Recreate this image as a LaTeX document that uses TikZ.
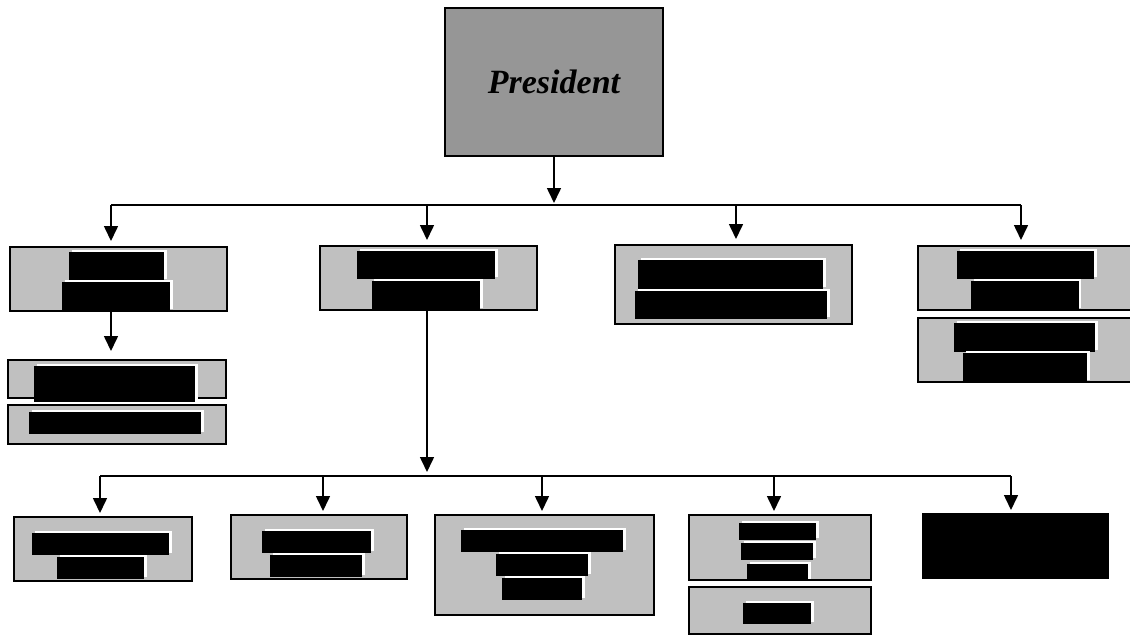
\documentclass[tikz,border=0pt]{standalone}
\usepackage{fontspec}
\setmainfont{Liberation Serif}
\usetikzlibrary{arrows.meta,shadows}
\definecolor{presgray}{RGB}{150,150,150}
\definecolor{unitgray}{RGB}{192,192,192}
\tikzset{
  box/.style = {draw=black, line width=2pt, inner sep=0pt},
  pres_b/.style = {box, fill=presgray, font=\fontsize{34}{40}\selectfont\bfseries\itshape},
  unit_b/.style = {box, fill=unitgray},
  black_b/.style = {box, fill=black},
  redact/.style = {fill=black, drop shadow={shadow xshift=2.5pt, shadow yshift=2.5pt, fill=white, opacity=1}},
  link/.style = {line width=1.6pt},
  arr/.style = {link, -{Triangle[length=15pt,width=14pt]}},
}

\begin{document}
\begin{tikzpicture}[x=1pt, y=-1pt]
  \useasboundingbox (0,0) rectangle (1130,637);
  % boxes
  \node [pres_b, minimum width=218pt, minimum height=148pt] (pres) at (554,82) {President};
  \node [unit_b, minimum width=217pt, minimum height=64pt] (top1) at (118.75,279) {};
  \node [unit_b, minimum width=218pt, minimum height=38pt] (top1a) at (117,379) {};
  \node [unit_b, minimum width=218pt, minimum height=39pt] (top1b) at (117,424.5) {};
  \node [unit_b, minimum width=217pt, minimum height=64pt] (top2) at (428.5,278) {};
  \node [unit_b, minimum width=237pt, minimum height=79pt] (top3) at (733.5,284.5) {};
  \node [unit_b, minimum width=216pt, minimum height=64pt] (top4) at (1026,278) {};
  \node [unit_b, minimum width=216pt, minimum height=64pt] (top4b) at (1026,350) {};
  \node [unit_b, minimum width=178pt, minimum height=64pt] (low1) at (103,549) {};
  \node [unit_b, minimum width=176pt, minimum height=64pt] (low2) at (319,547) {};
  \node [unit_b, minimum width=219pt, minimum height=100pt] (low3) at (544.5,565) {};
  \node [unit_b, minimum width=182pt, minimum height=65pt] (low4) at (780,547.5) {};
  \node [unit_b, minimum width=182pt, minimum height=47pt] (low4b) at (780,610.5) {};
  \node [black_b, minimum width=185pt, minimum height=64pt] (low5) at (1015.5,546) {};
  % blacked-out titles
  \foreach \xa/\ya/\xb/\yb in {69/252/164/281, 62/282/170/311,
      357/251/495/279, 371.5/281/480/310, 638/260/823/289, 635/291/827/319,
      957/251/1094/279, 971/281/1078.5/310, 954/323/1095/352, 963/353/1087/382,
      34/366/195/402, 29/412/201/434, 32/533/169/555, 57/557/144/579,
      262/531/371/553, 270/555/362/577, 461/530/623/552, 496/554/588/576,
      502/578/582/600, 739/523/816/540, 741/543/813/560, 747/564/808/581,
      743/603/811/624}
    \path [redact] (\xa,\ya) rectangle (\xb,\yb);
  % connectors
  \coordinate (t1) at (111,205);
  \coordinate (t2) at (427,205);
  \coordinate (t3) at (736,205);
  \coordinate (t4) at (1021,205);
  \coordinate (u1) at (100,476);
  \coordinate (u2) at (323,476);
  \coordinate (u3) at (542,476);
  \coordinate (u4) at (774,476);
  \coordinate (u5) at (1011,476);
  \draw [arr, shorten >=2pt] (pres.south) -- (pres.south |- t1);
  \draw [link] (t1) -- (t4);
  \draw [arr, shorten >=5pt] (t1) -- (t1 |- top1.north);
  \draw [arr, shorten >=5pt] (t2) -- (t2 |- top2.north);
  \draw [arr, shorten >=5pt] (t3) -- (t3 |- top3.north);
  \draw [arr, shorten >=5pt] (t4) -- (t4 |- top4.north);
  \draw [arr, shorten >=8pt] (top1.south -| t1) -- (top1a.north -| t1);
  \draw [arr, shorten >=4pt] (top2.south -| t2) -- (t2 |- u1);
  \draw [link] (u1) -- (u5);
  \draw [arr, shorten >=3pt] (u1) -- (u1 |- low1.north);
  \draw [arr, shorten >=3pt] (u2) -- (u2 |- low2.north);
  \draw [arr, shorten >=3pt] (u3) -- (u3 |- low3.north);
  \draw [arr, shorten >=3pt] (u4) -- (u4 |- low4.north);
  \draw [arr, shorten >=3pt] (u5) -- (u5 |- low5.north);
\end{tikzpicture}
\end{document}
